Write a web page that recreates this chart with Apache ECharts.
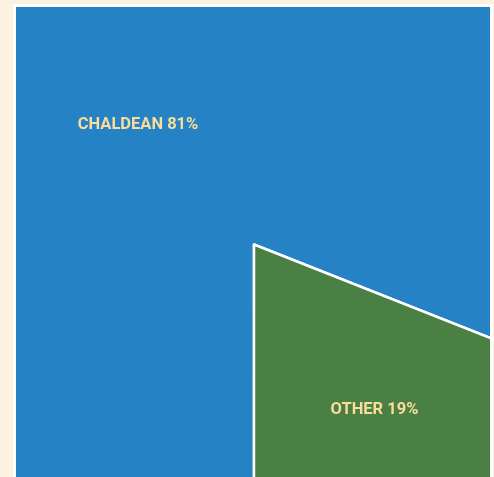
<!DOCTYPE html>
<html>
<head>
<meta charset="utf-8">
<script src="https://cdn.jsdelivr.net/npm/echarts@6/dist/echarts.min.js"></script>
<style>
  html, body { margin: 0; padding: 0; width: 494px; height: 477px; background: #fdf2e1; overflow: hidden; }
  #frame { position: absolute; left: 13px; top: 4px; width: 480px; height: 480px; background: #ffffff; }
  #chart { position: absolute; left: 16px; top: 7px; width: 474px; height: 470px; overflow: hidden; }
</style>
</head>
<body>
<div id="frame"></div>
<div id="chart"></div>
<script>
const categories = ['CHALDEAN', 'OTHER'];
const values = [81, 19];
const colors = ['#2482c5', '#4a8044'];

const chart = echarts.init(document.getElementById('chart'), null, { renderer: 'canvas' });
const labelSpots = { CHALDEAN: [122, 117.5], OTHER: [358.5, 402.5] };

chart.setOption({
  animation: false,
  backgroundColor: 'transparent',
  series: [{
    type: 'pie',
    center: [238, 237.5],
    radius: [0, 1600],
    startAngle: 270,
    clockwise: true,
    silent: true,
    data: categories.map((c, i) => ({ name: c, value: values[i], itemStyle: { color: colors[i] } })),
    itemStyle: { borderColor: '#ffffff', borderWidth: 2.5 },
    label: {
      show: true,
      position: 'inside',
      formatter: p => p.name + ' ' + p.value + '%',
      color: '#fadc9b',
      fontFamily: 'Roboto, sans-serif',
      fontWeight: 'bold',
      fontSize: 16.5
    },
    labelLine: { show: false },
    labelLayout: function (params) {
      const name = categories[params.dataIndex];
      const s = labelSpots[name];
      return { x: s[0], y: s[1], align: 'center', verticalAlign: 'middle', hideOverlap: false };
    }
  }]
});
</script>
</body>
</html>
